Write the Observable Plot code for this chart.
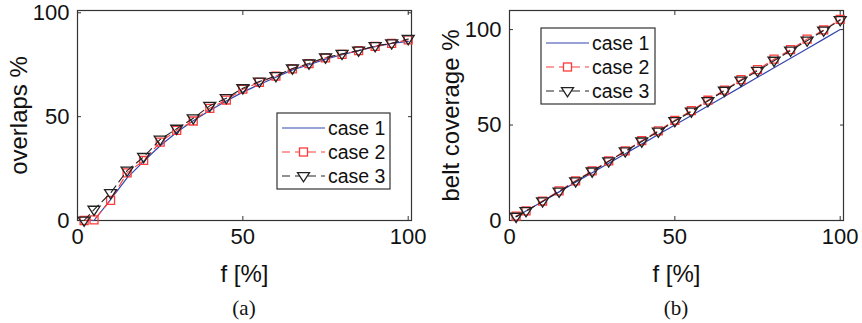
<!DOCTYPE html>
<html><head><meta charset="utf-8">
<script src="https://cdn.jsdelivr.net/npm/d3@7"></script>
<script src="https://cdn.jsdelivr.net/npm/@observablehq/plot@0.6"></script>
<style>
body{margin:0;background:#fff;}
#wrap{display:flex;width:862px;height:323px;overflow:hidden;}
.panel{position:relative;}
.panel svg{overflow:visible;}
.cap{font-family:"Liberation Serif","Times New Roman",serif;font-size:21px;color:#111;text-align:center;line-height:20px;margin-top:8px;}
</style></head><body><div id="wrap"></div>
<script>
// shared x values (f [%])
const f = [2,5,10,15,20,25,30,35,40,45,50,55,60,65,70,75,80,85,90,95,100];
// panel (a): overlaps %
const overlapsCase1 = [0,0,10,20.5,28.5,36,42.5,48,53,57.5,61.8,65.5,69,72.5,75,77.7,79.8,81.8,83.7,85.3,86.2];
const overlapsCase2 = [0,0.3,9.7,22.9,28.9,37.7,43.4,47.9,54,58,63.2,66.5,69.5,73,75.5,78.3,80,81.8,83.8,85.3,87];
const overlapsCase3 = [0,5.2,13.2,24,30.6,39,44.2,49.2,55.2,58.9,63.7,66.9,69.5,73.2,75.6,78.5,80.2,81.8,84,85.3,87.4];
// panel (b): belt coverage %
const coverageCase1 = [2,5,10,15,20,25,30,35,40,45,50,55,60,65,70,75,80,85,90,95,100];
const coverageCase2 = [2.3,5,10.2,15.5,20.8,26,31.2,36.5,41.8,47,52.5,57.5,63,68.3,73.8,79,84.5,89.5,95,99.8,105.3];
const coverageCase3 = [2,4.9,10,15.2,20.5,25.7,31,36.2,41.4,46.6,52.1,57.1,62.6,68,73.3,78.4,83.7,89,94.2,99.5,105];
// ticks and labels
const xTicks = [0,50,100];
const yTicks = [0,50,100];
const seriesNames = ["case 1","case 2","case 3"];
const xLabel = "f [%]";
const yLabels = ["overlaps %","belt coverage %"];
const captions = ["(a)","(b)"];

const colors = ["#3346b0","#ff3b3b","#222222"];
const dash = "8,5";
const FONT = "'Liberation Sans', Arial, Helvetica, sans-serif";
const TXT = "#111";

const triDown = {draw(ctx, size){
  const r = Math.sqrt(size/Math.PI);
  const w = r*1.25, h = r*1.2;
  ctx.moveTo(-w,-h*0.6); ctx.lineTo(w,-h*0.6); ctx.lineTo(0,h); ctx.closePath();
}};

function makePanel(c1,c2,c3,yDomain,yLabel,width,ml,mr,legend,caption){
  const d1 = f.map((x,i)=>({x,y:c1[i]}));
  const d2 = f.map((x,i)=>({x,y:c2[i]}));
  const d3_ = f.map((x,i)=>({x,y:c3[i]}));
  const H = 290, mt = 10, mb = 70;
  const chart = Plot.plot({
    width, height: H, marginLeft: ml, marginRight: mr, marginTop: mt, marginBottom: mb,
    style: {fontFamily: FONT, fontSize: "22px", color: TXT, background: "#fff", overflow: "visible"},
    x: {domain: [0,101]},
    y: {domain: yDomain},
    marks: [
      Plot.axisX(xTicks, {anchor:"bottom", tickSize:-4, tickPadding:12, stroke:"#333", fill:TXT, fontSize:22, label:null}),
      Plot.axisX({anchor:"bottom", ticks:[], tickSize:0, fill:TXT, fontSize:24, label:xLabel, labelAnchor:"center", labelArrow:"none", labelOffset:61}),
      Plot.axisX(xTicks, {anchor:"top", tickSize:-4, stroke:"#333", fill:"none", label:null}),
      Plot.axisY(yTicks, {anchor:"left", tickSize:-4, tickPadding:12, stroke:"#333", fill:TXT, fontSize:22, label:null}),
      Plot.axisY({anchor:"left", ticks:[], tickSize:0, fill:TXT, fontSize:24, label:yLabel, labelAnchor:"center", labelArrow:"none", labelOffset:68}),
      Plot.axisY(yTicks, {anchor:"right", tickSize:-4, stroke:"#333", fill:"none", label:null}),
      Plot.frame({stroke:"#333", strokeWidth:1.2}),
      Plot.line(d1, {x:"x", y:"y", stroke:colors[0], strokeWidth:1.2}),
      Plot.line(d2, {x:"x", y:"y", stroke:colors[1], strokeWidth:1.1, strokeDasharray:dash}),
      Plot.dot(d2, {x:"x", y:"y", symbol:"square", r:4.5, stroke:colors[1], fill:"none", strokeWidth:1.3}),
      Plot.line(d3_, {x:"x", y:"y", stroke:colors[2], strokeWidth:1.1, strokeDasharray:dash}),
      Plot.dot(d3_, {x:"x", y:"y", symbol:triDown, r:4.8, stroke:colors[2], fill:"none", strokeWidth:1.3})
    ]
  });
  // legend box
  const svg = d3.select(chart);
  const g = svg.append("g").attr("transform", `translate(${legend.x},${legend.y})`);
  g.append("rect").attr("width", legend.w).attr("height", legend.h).attr("fill","#fff").attr("stroke","#333").attr("stroke-width",1.2);
  seriesNames.forEach((name,i)=>{
    const cy = 15 + i*24;
    const ln = g.append("line").attr("x1",5).attr("x2",48).attr("y1",cy).attr("y2",cy)
      .attr("stroke",colors[i]).attr("stroke-width", i===0?1.2:1.1);
    if (i>0) ln.attr("stroke-dasharray", dash);
    if (i===1) g.append("rect").attr("x",26.5-4).attr("y",cy-4).attr("width",8).attr("height",8).attr("fill","#fff").attr("stroke",colors[1]).attr("stroke-width",1.3);
    if (i===2) g.append("path").attr("d", d3.symbol(triDown, Math.PI*4.8*4.8)()).attr("transform",`translate(26.5,${cy})`).attr("fill","#fff").attr("stroke",colors[2]).attr("stroke-width",1.3);
    g.append("text").attr("x",51).attr("y",cy).attr("dy","0.36em").attr("text-anchor","start")
      .attr("font-family",FONT).attr("font-size",19.5).attr("fill",TXT).text(name);
  });
  const panel = document.createElement("div");
  panel.className = "panel";
  panel.style.width = width + "px";
  panel.appendChild(chart);
  const cap = document.createElement("div");
  cap.className = "cap";
  cap.style.marginLeft = ml + "px";
  cap.style.width = (width - ml - mr) + "px";
  cap.textContent = caption;
  panel.appendChild(cap);
  document.getElementById("wrap").appendChild(panel);
}

makePanel(overlapsCase1, overlapsCase2, overlapsCase3, [0,101.1], yLabels[0], 431, 77, 20, {x:277, y:113, w:113, h:76}, captions[0]);
makePanel(coverageCase1, coverageCase2, coverageCase3, [0,110], yLabels[1], 431, 78, 19, {x:110, y:28, w:114, h:76}, captions[1]);
</script></body></html>
